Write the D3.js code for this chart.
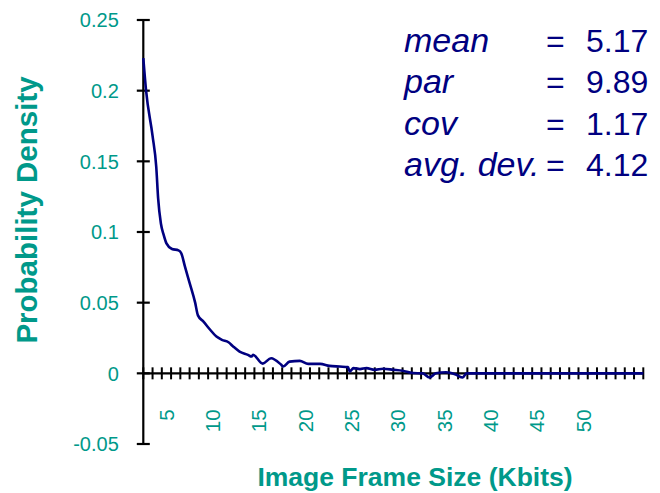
<!DOCTYPE html>
<html>
<head>
<meta charset="utf-8">
<script src="https://cdn.jsdelivr.net/npm/d3@7"></script>
<style>
  body { margin: 0; background: #fff; }
  svg { font-family: "Liberation Sans", Arial, sans-serif; }
</style>
</head>
<body>
<svg width="660" height="493"></svg>
<script>
// frame size (Kbits) and probability density
var sizes = [2.5, 2.8, 3.5, 3.9, 4.1, 4.4, 4.7, 5.0, 5.6, 6.3, 6.6, 7.0, 7.5, 8.1, 8.4, 9.0,
  9.7, 10.4, 11.0, 11.7, 12.2, 12.9, 13.8, 14.2, 14.35, 15.4, 16.3, 17.4, 17.6, 18.3, 19.4,
  20.3, 21.6, 22.6, 23.7, 24.6, 24.8, 25.2, 25.9, 26.6, 27.5, 28.4, 29.5, 30.5, 31.6, 32.7,
  33.4, 34.1, 35.2, 36.3, 37.0, 37.4, 56.5];
var density = [0.223, 0.2, 0.168, 0.146, 0.124, 0.106, 0.098, 0.092, 0.088, 0.087, 0.085, 0.0755,
  0.064, 0.05, 0.041, 0.0366, 0.031, 0.026, 0.0237, 0.022, 0.019, 0.0154, 0.0131, 0.0119, 0.0131,
  0.0069, 0.0107, 0.006, 0.0048, 0.0083, 0.0088, 0.0067, 0.0067, 0.0053, 0.0048, 0.0044, 0.0013,
  0.0037, 0.003, 0.0037, 0.0025, 0.0032, 0.0025, 0.0018, 0.0002, 0, -0.003, 0, 0.0008, -0.001,
  -0.003, 0, 0];

var yTicks = [-0.05, 0, 0.05, 0.1, 0.15, 0.2, 0.25];
var xLabels = [5, 10, 15, 20, 25, 30, 35, 40, 45, 50];
var statNames = ["mean", "par", "cov", "avg. dev."];
var statValues = ["5.17", "9.89", "1.17", "4.12"];

var svg = d3.select("svg");
var teal = "#00998a", navy = "#000080";

var x = d3.scaleLinear().domain([2.5, 56.5]).range([143.3, 643.3]);
var y = d3.scaleLinear().domain([-0.05, 0.25]).range([444, 20]);

// y axis
var yAxis = svg.append("g").attr("transform", "translate(" + x(2.5) + ",0)");
yAxis.append("line")
    .attr("y1", y(0.25)).attr("y2", y(-0.05))
    .attr("stroke", "#000").attr("stroke-width", 2.2);
yAxis.selectAll(".tick").data(yTicks).enter().append("line")
    .attr("x1", -6.5).attr("x2", 6.5)
    .attr("y1", function(d) { return y(d); })
    .attr("y2", function(d) { return y(d); })
    .attr("stroke", "#000").attr("stroke-width", 2.2);
yAxis.selectAll("text").data(yTicks).enter().append("text")
    .attr("x", -24.5)
    .attr("y", function(d) { return y(d); })
    .attr("dy", "0.36em")
    .attr("text-anchor", "end")
    .attr("fill", teal)
    .style("font-size", "20px")
    .text(function(d) { return d; });

// x axis
var xAxis = svg.append("g").attr("transform", "translate(0," + y(0) + ")");
xAxis.append("line")
    .attr("x1", x(2.5)).attr("x2", x(56.5))
    .attr("stroke", "#000").attr("stroke-width", 2.2);
xAxis.selectAll(".tick").data(d3.range(2.5, 57, 1)).enter().append("line")
    .attr("x1", function(d) { return x(d); })
    .attr("x2", function(d) { return x(d); })
    .attr("y1", -6).attr("y2", 6)
    .attr("stroke", "#000").attr("stroke-width", 2);
xAxis.selectAll("text").data(xLabels).enter().append("text")
    .attr("transform", function(d) { return "translate(" + x(d) + ",36) rotate(-90)"; })
    .attr("dy", "0.36em")
    .attr("text-anchor", "end")
    .attr("fill", teal)
    .style("font-size", "20.5px")
    .text(function(d) { return d; });

// curve
var line = d3.line()
    .x(function(d, i) { return x(sizes[i]); })
    .y(function(d) { return y(d); })
    .curve(d3.curveMonotoneX);

svg.append("path")
    .datum(density)
    .attr("d", line)
    .attr("fill", "none")
    .attr("stroke", navy)
    .attr("stroke-width", 2.6)
    .attr("stroke-linejoin", "round");

// axis titles
svg.append("text")
    .attr("x", 415).attr("y", 486)
    .attr("text-anchor", "middle")
    .attr("fill", teal)
    .style("font-size", "26.5px").style("font-weight", "bold")
    .text("Image Frame Size (Kbits)");

svg.append("text")
    .attr("transform", "translate(37,210) rotate(-90)")
    .attr("text-anchor", "middle")
    .attr("fill", teal)
    .style("font-size", "29.5px").style("font-weight", "bold")
    .text("Probability Density");

// statistics box
var stats = svg.append("g").attr("fill", navy);
statNames.forEach(function(name, i) {
  var by = 52 + i * 41.3;
  stats.append("text").attr("x", 404).attr("y", by)
      .style("font-size", "34px").style("font-style", "italic").text(name);
  stats.append("text").attr("x", 546).attr("y", by)
      .style("font-size", "32px").text("=");
  stats.append("text").attr("x", 586).attr("y", by)
      .style("font-size", "32px").text(statValues[i]);
});
</script>
</body>
</html>
